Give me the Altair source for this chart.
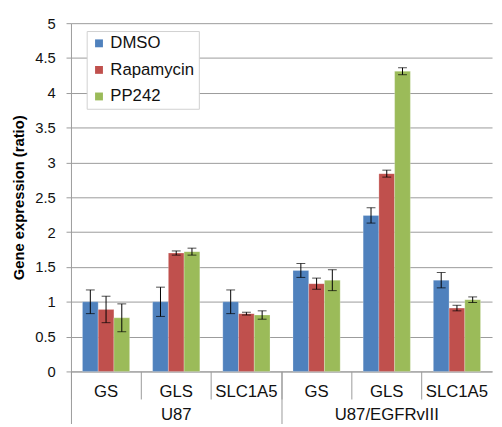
import altair as alt
import pandas as pd

cell_lines = ["U87", "U87", "U87", "U87/EGFRvIII", "U87/EGFRvIII", "U87/EGFRvIII"]
genes = ["GS", "GLS", "SLC1A5", "GS", "GLS", "SLC1A5"]
groups = ["U87", "U87/EGFRvIII"]
treatments = ["DMSO", "Rapamycin", "PP242"]
colors = ["#4F81BD", "#C0504D", "#9BBB59"]

dmso = [1.00, 1.00, 1.00, 1.45, 2.24, 1.31]
dmso_err = [0.17, 0.21, 0.17, 0.10, 0.11, 0.11]
rapa = [0.89, 1.70, 0.83, 1.26, 2.84, 0.91]
rapa_err = [0.19, 0.03, 0.02, 0.08, 0.05, 0.04]
pp242 = [0.77, 1.72, 0.81, 1.31, 4.31, 1.03]
pp242_err = [0.20, 0.05, 0.06, 0.15, 0.05, 0.04]

y_ticks = [0, 0.5, 1, 1.5, 2, 2.5, 3, 3.5, 4, 4.5, 5]

keys = [c + "|" + g for c, g in zip(cell_lines, genes)]
rows = []
for t, vals, errs in zip(treatments, [dmso, rapa, pp242], [dmso_err, rapa_err, pp242_err]):
    for k, v, e in zip(keys, vals, errs):
        rows.append({"key": k, "treatment": t, "value": v, "lo": v - e, "hi": v + e})
df = pd.DataFrame(rows)
gdf = pd.DataFrame({"group": groups})

FONT = "Liberation Sans"
GRAY = "#9a9a9a"

x_axis = alt.Axis(
    title=None,
    labelExpr="split(datum.label, '|')[1]",
    labelAngle=0,
    bandPosition=0,
    tickSize=28,
    tickColor=GRAY,
    domainColor=GRAY,
    labelPadding=-16,
    labelFontSize=17,
    labelColor="#111",
    labelFont=FONT,
    grid=False,
)
x_scale = alt.Scale(paddingInner=0, paddingOuter=0)
y_scale = alt.Scale(domain=[0, 5], nice=False)
y_axis = alt.Axis(
    title="Gene expression (ratio)",
    values=y_ticks,
    labelExpr="'' + datum.value",
    tickSize=5,
    tickColor=GRAY,
    domainColor=GRAY,
    gridColor=GRAY,
    labelPadding=11,
    labelFontSize=15,
    labelColor="#111",
    labelFont=FONT,
    titleFont=FONT,
    titleFontSize=15,
    titleFontWeight="bold",
    titleColor="#000",
    titlePadding=8,
)


def xe():
    return alt.X("key:N", sort=keys, scale=x_scale, axis=x_axis)


xo_enc = alt.XOffset("treatment:N", sort=treatments,
                     scale=alt.Scale(paddingInner=0, paddingOuter=0.73))

bars = alt.Chart(df).mark_bar(strokeWidth=0.5, stroke="white", strokeOpacity=0.5).encode(
    x=xe(),
    xOffset=xo_enc,
    y=alt.Y("value:Q", scale=y_scale, axis=y_axis),
    color=alt.Color(
        "treatment:N",
        sort=treatments,
        scale=alt.Scale(domain=treatments, range=colors),
        legend=alt.Legend(
            title=None,
            orient="none",
            legendX=16,
            legendY=8,
            symbolType="square",
            symbolSize=64,
            symbolStrokeWidth=0,
            labelFontSize=17,
            labelFont=FONT,
            labelColor="#111",
            labelOffset=3,
            rowPadding=9,
            padding=4,
            fillColor="white",
            strokeColor="#d0d0d0",
            labelLimit=200,
        ),
    ),
)

rules = alt.Chart(df).mark_rule(color="black", strokeWidth=1).encode(
    x=xe(), xOffset=xo_enc,
    y=alt.Y("lo:Q", scale=y_scale, axis=y_axis), y2="hi:Q"
)
cap_lo = alt.Chart(df).mark_tick(color="black", thickness=1, size=9).encode(
    x=xe(), xOffset=xo_enc, y=alt.Y("lo:Q", scale=y_scale, axis=y_axis)
)
cap_hi = alt.Chart(df).mark_tick(color="black", thickness=1, size=9).encode(
    x=xe(), xOffset=xo_enc, y=alt.Y("hi:Q", scale=y_scale, axis=y_axis)
)

inner = alt.layer(bars, rules, cap_lo, cap_hi)

grp = alt.Chart(gdf).mark_tick(opacity=0).encode(
    x=alt.X(
        "group:N",
        sort=groups,
        scale=alt.Scale(paddingInner=0, paddingOuter=0),
        axis=alt.Axis(
            orient="bottom",
            title=None,
            labelAngle=0,
            bandPosition=0,
            tickSize=53,
            tickColor=GRAY,
            domain=False,
            labelPadding=-17,
            labelFontSize=17,
            labelColor="#111",
            labelFont=FONT,
            grid=False,
        ),
    )
)

chart = alt.layer(inner, grp).resolve_scale(x="independent").properties(
    width=428,
    height=354,
    autosize=alt.AutoSizeParams(type="none"),
    padding={"left": 64, "top": 12, "right": 2, "bottom": 50},
).configure_view(stroke=None)

chart.save("out.html", embed_options={"renderer": "svg", "actions": False})
